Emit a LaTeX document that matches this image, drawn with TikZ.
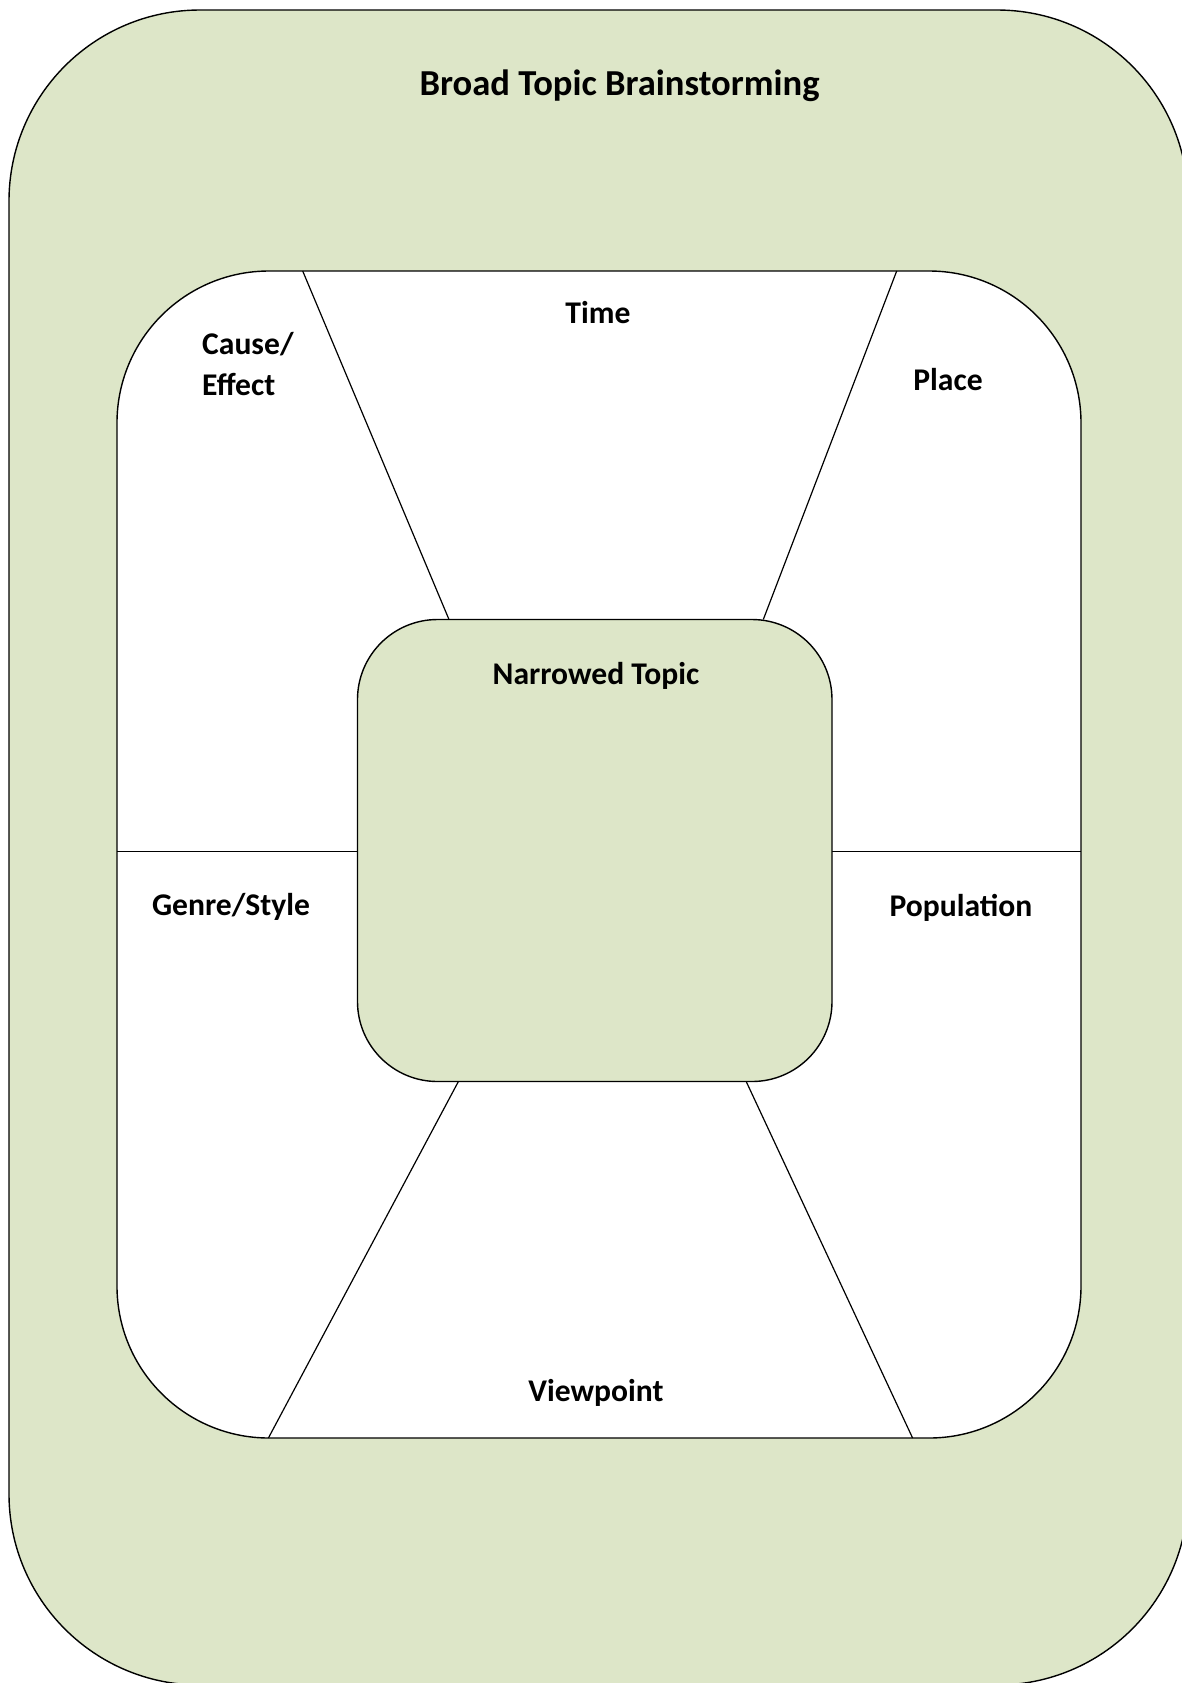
\documentclass[tikz,border=0pt]{standalone}
\usepackage{fontspec}
\setmainfont{Carlito}
\definecolor{topicgreen}{HTML}{DDE6C8}
\begin{document}
\begin{tikzpicture}[x=0.5pt,y=-0.5pt,
  box/.style={draw=black, line width=0.7pt, rectangle, inner sep=0pt},
  divider/.style={draw=black, line width=0.6pt},
  lbl/.style={font=\fontsize{15.8}{20.5}\selectfont\bfseries, inner sep=0pt},
  titlelbl/.style={font=\fontsize{18.3}{22}\selectfont\bfseries, inner sep=0pt}]
\useasboundingbox (0,0) rectangle (1182,1683);
% outer frame
\node[box, fill=topicgreen, rounded corners=95.5pt, minimum width=589.5pt, minimum height=837.5pt] (outer) at (598.5,847.5) {};
% inner white area
\node[box, fill=white, rounded corners=76pt, minimum width=482pt, minimum height=583.5pt] (inner) at (599,854.5) {};
% divider end points
\coordinate (tl) at (302.7,271);
\coordinate (tlc) at (449,619.5);
\coordinate (tr) at (896.7,271);
\coordinate (trc) at (763.3,619.5);
\coordinate (ml) at (117,851.4);
\coordinate (mlc) at (357.5,851.4);
\coordinate (mr) at (1081,851.4);
\coordinate (mrc) at (832,851.4);
\coordinate (bl) at (268.4,1438);
\coordinate (blc) at (458.4,1081.5);
\coordinate (br) at (912.6,1438);
\coordinate (brc) at (746.2,1081.5);
\draw[divider] (tl) -- (tlc);
\draw[divider] (tr) -- (trc);
\draw[divider] (ml) -- (mlc);
\draw[divider] (mr) -- (mrc);
\draw[divider] (bl) -- (blc);
\draw[divider] (br) -- (brc);
% centre box
\node[box, fill=topicgreen, rounded corners=40pt, minimum width=237.25pt, minimum height=231pt] (centre) at (594.75,850.5) {};
% labels
\node[titlelbl] (title) at (619.5,85.5) {Broad Topic Brainstorming};
\node[lbl] (time) at (598,313) {Time};
\node[lbl, align=left, anchor=west] (cause) at (201.8,364.5) {Cause/\\Effect};
\node[lbl] (place) at (948,380) {Place};
\node[lbl] (narrow) at (596,676) {Narrowed Topic};
\node[lbl] (genre) at (231,907) {Genre/Style};
\node[lbl] (pop) at (961,908) {Population};
\node[lbl] (view) at (596,1393) {Viewpoint};
\end{tikzpicture}
\end{document}
